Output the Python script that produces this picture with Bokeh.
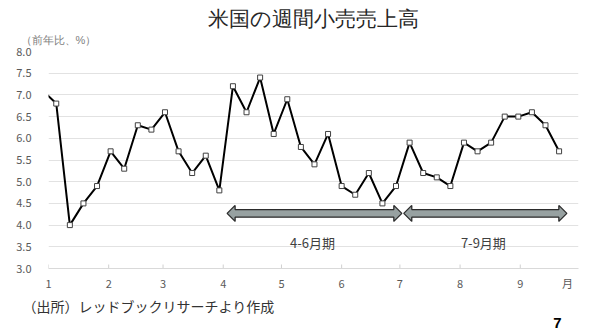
import pandas as pd
from bokeh.plotting import figure
from bokeh.models import Range1d, FixedTicker, NumeralTickFormatter, Label, Title, ColumnDataSource
from bokeh.embed import file_html
from bokeh.resources import INLINE

# ---- data ----
week_dates = pd.date_range("2018-12-29", periods=39, freq="7D")
sales_yoy = [7.1, 6.8, 4.0, 4.5, 4.9, 5.7, 5.3, 6.3, 6.2, 6.6,
             5.7, 5.2, 5.6, 4.8, 7.2, 6.6, 7.4, 6.1, 6.9, 5.8,
             5.4, 6.1, 4.9, 4.7, 5.2, 4.5, 4.9, 5.9, 5.2, 5.1,
             4.9, 5.9, 5.7, 5.9, 6.5, 6.5, 6.6, 6.3, 5.7]
month_starts = ["2019-01-01", "2019-02-01", "2019-03-01", "2019-04-01", "2019-05-01",
                "2019-06-01", "2019-07-01", "2019-08-01", "2019-09-01"]
month_labels = ["1", "2", "3", "4", "5", "6", "7", "8", "9"]
unit_label_day = 267.3
unit_label = "月"
y_ticks = [3.0, 3.5, 4.0, 4.5, 5.0, 5.5, 6.0, 6.5, 7.0, 7.5, 8.0]
period_labels = ["4-6月期", "7-9月期"]
period_start = ["2019-04-03", "2019-07-03"]
period_end = ["2019-07-02", "2019-09-25"]
period_y = 4.27

origin = pd.Timestamp("2019-01-01")
def day(d):
    return (pd.Timestamp(d) - origin).days

xs = [(d - origin).days for d in week_dates]
tick_days = [day(m) for m in month_starts]

FONT = "Noto Sans CJK JP"
HFONT = "Liberation Sans"
X0, X1 = 0, 273
FL, FR, FT, FB = 48, 578, 51, 268
PXD = (FR - FL) / (X1 - X0)
PXV = (FB - FT) / 5.0

def dy(py):
    return 3.0 + (FB - py) / PXV

p = figure(width=603, height=331, output_backend="svg", toolbar_location=None,
           x_range=Range1d(X0, X1), y_range=Range1d(3.0, 8.0),
           min_border_left=FL, min_border_right=603 - FR,
           min_border_top=FT, min_border_bottom=331 - FB)
p.outline_line_color = None
p.background_fill_color = "white"
p.border_fill_color = "white"

# titles
p.title.text = "米国の週間小売売上高"
p.title.align = "center"
p.title.offset = -21
p.title.text_font = HFONT
p.title.text_font_size = "21px"
p.title.text_font_style = "normal"
p.title.text_color = "#262626"
p.title.standoff = 0

p.add_layout(Title(text="（前年比、%）", align="left", offset=-28, standoff=8,
                   vertical_align="top",
                   text_font=HFONT, text_font_size="11px", text_font_style="normal",
                   text_color="#808080"), "above")

p.xgrid.visible = False
p.ygrid.grid_line_color = "#e2e2e2"
p.ygrid.grid_line_width = 1

p.yaxis.ticker = FixedTicker(ticks=y_ticks)
p.yaxis.formatter = NumeralTickFormatter(format="0.0")
p.yaxis.axis_line_color = None
p.yaxis.major_tick_line_color = None
p.yaxis.minor_tick_line_color = None
p.yaxis.major_label_standoff = 11
p.yaxis.major_label_text_font = FONT
p.yaxis.major_label_text_font_size = "11px"
p.yaxis.major_label_text_color = "#595959"

p.xaxis.ticker = FixedTicker(ticks=tick_days + [unit_label_day])
overrides = {t: l for t, l in zip(tick_days, month_labels)}
overrides[unit_label_day] = unit_label
p.xaxis.major_label_overrides = overrides
p.xaxis.axis_line_color = "#d9d9d9"
p.xaxis.major_tick_line_color = None
p.xaxis.major_tick_in = 0
p.xaxis.major_tick_out = 0
p.xaxis.minor_tick_line_color = None
p.xaxis.major_label_standoff = 6
p.xaxis.major_label_text_font = FONT
p.xaxis.major_label_text_font_size = "11px"
p.xaxis.major_label_text_color = "#595959"

# small inside tick marks at month starts
p.segment(x0=tick_days, y0=[3.0] * len(tick_days), x1=tick_days,
          y1=[3.0 + 4 / PXV] * len(tick_days), line_color="#d0d0d0", line_width=1)

p.add_layout(Title(text="（出所）レッドブックリサーチより作成", align="left", offset=-26,
                   standoff=0, text_font=FONT, text_font_size="14px",
                   text_font_style="normal", text_color="#333333"), "below")
p.add_layout(Title(text="7", align="right", offset=17, standoff=0,
                   text_font="Liberation Sans", text_font_size="15px", text_font_style="bold",
                   text_color="black"), "below")

# double arrows for quarters
L = 8 / PXD
h1 = 3.8 / PXV
h2 = 8.0 / PXV
axs, ays = [], []
for s, e in zip(period_start, period_end):
    x0, x1 = day(s), day(e)
    y = period_y
    axs.append([x0, x0 + L, x0 + L, x1 - L, x1 - L, x1, x1 - L, x1 - L, x0 + L, x0 + L])
    ays.append([y, y + h2, y + h1, y + h1, y + h2, y, y - h2, y - h1, y - h1, y - h2])
p.patches(axs, ays, fill_color="#97a1a1", line_color="#2b2b2b", line_width=1.3)

src = ColumnDataSource(dict(x=xs, y=sales_yoy))
p.line("x", "y", source=src, line_color="black", line_width=2)
p.scatter("x", "y", source=src, marker="square", size=5, fill_color="white",
          line_color="#404040", line_width=1)

for lab, s, e in zip(period_labels, period_start, period_end):
    p.add_layout(Label(x=(day(s) + day(e)) / 2 - 1, y=dy(242), text=lab,
                       text_align="center", text_baseline="middle",
                       text_font=FONT, text_font_size="13px", text_color="#404040"))

open("out.html", "w").write(file_html(p, INLINE))
